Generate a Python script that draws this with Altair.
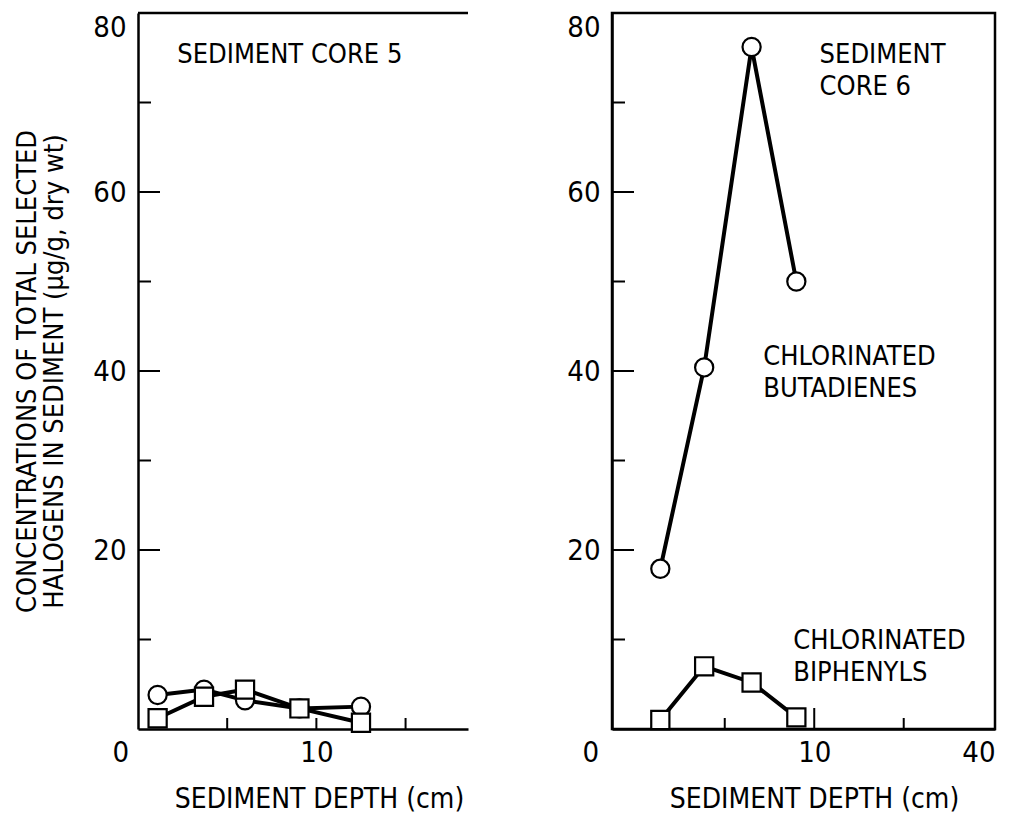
import altair as alt
import pandas as pd

# ---------------- data ----------------
core5_depth = [1.1, 3.7, 6.0, 9.05, 12.5]
core5_butadienes = [3.8, 4.4, 3.2, 2.3, 2.5]
core5_biphenyls = [1.2, 3.6, 4.4, 2.3, 0.7]

core6_depth = [1.4, 3.85, 6.5, 9.0]
core6_butadienes = [17.9, 40.4, 76.2, 50.0]
core6_biphenyls = [1.0, 7.0, 5.2, 1.3]

y_labels = [20, 40, 60, 80]
y_major_ticks = [20, 40, 60]
y_minor_ticks = [10, 30, 50, 70]

core5_x_labels = [0, 10]
core5_x_ticks = [5, 10, 15]
core5_x_domain = [0, 18.5]

core6_x_end = 20.1          # right end of the axis, printed "40" in the original
core6_x_labels = [0, 10, core6_x_end]
core6_x_major_ticks = [10]
core6_x_minor_ticks = [5, 15]
core6_x_domain = [-1.3, core6_x_end]
y_domain = [0, 80]

core5_notes = ["SEDIMENT CORE 5"]
core6_notes = ["SEDIMENT\nCORE 6", "CHLORINATED\nBUTADIENES", "CHLORINATED\nBIPHENYLS"]

# ---------------- styling ----------------
FONT = "Liberation Sans Narrow, DejaVu Sans Condensed, Arial Narrow, sans-serif"
H = 716
W5 = 330
W6 = 383
Y_TITLE = ["CONCENTRATIONS OF TOTAL SELECTED", "HALOGENS IN SEDIMENT (\u00b5g/g, dry wt)"]
X_TITLE = "SEDIMENT DEPTH (cm)"


def y_enc(with_title):
    kw = dict(values=y_labels, ticks=False, grid=False, domainColor="black",
              domainWidth=2.5, labelFont=FONT, labelFontSize=29, labelColor="black",
              labelPadding=12, labelFlush=True, format="d")
    if with_title:
        kw.update(titleFont=FONT, titleFontSize=27, titleFontWeight="normal",
                  titleColor="black", titlePadding=24, titleLineHeight=27)
    return alt.Y("value:Q", scale=alt.Scale(domain=y_domain, nice=False, zero=False),
                 axis=alt.Axis(**kw), title=Y_TITLE if with_title else None)


def x_enc(domain, values, zero_offset, title_x, label_expr=None):
    kw = dict(values=values, ticks=False, grid=False, domainColor="black",
              domainWidth=2.5, labelFont=FONT, labelFontSize=29, labelColor="black",
              labelPadding=9,
              labelOffset={"condition": {"test": "datum.value === 0", "value": zero_offset},
                           "value": 0},
              format="d", titleFont=FONT, titleFontSize=28, titleFontWeight="normal",
              titleColor="black", titleX=title_x, titleY=78, titleBaseline="alphabetic",
              titleAlign="center")
    if label_expr:
        kw["labelExpr"] = label_expr
    return alt.X("depth:Q", scale=alt.Scale(domain=domain, nice=False, zero=False),
                 axis=alt.Axis(**kw), title=X_TITLE)


def panel(depth, buta, biph, xdom, xlabels, xmajor, xminor, zero_off,
          title_x, width, with_title, notes, label_expr=None):
    X = x_enc(xdom, xlabels, zero_off, title_x, label_expr)
    Y = y_enc(with_title)
    d_b = pd.DataFrame({"depth": depth, "value": buta})
    d_p = pd.DataFrame({"depth": depth, "value": biph})
    layers = []
    layers.append(alt.Chart(d_b).mark_line(color="black", strokeWidth=4).encode(x=X, y=Y))
    layers.append(alt.Chart(d_b).mark_point(shape="circle", fill="white", stroke="black",
                                            filled=True, fillOpacity=1, strokeOpacity=1,
                                            strokeWidth=2.2, size=330).encode(x=X, y=Y))
    layers.append(alt.Chart(d_p).mark_line(color="black", strokeWidth=4).encode(x=X, y=Y))
    layers.append(alt.Chart(d_p).mark_point(shape="square", fill="white", stroke="black",
                                            filled=True, fillOpacity=1, strokeOpacity=1,
                                            strokeWidth=2.2, size=330).encode(x=X, y=Y))
    # inward ticks
    layers.append(alt.Chart(pd.DataFrame({"value": y_major_ticks})).mark_rule(
        color="black", strokeWidth=2).encode(y=Y, x=alt.value(0), x2=alt.value(22)))
    layers.append(alt.Chart(pd.DataFrame({"value": y_minor_ticks})).mark_rule(
        color="black", strokeWidth=2).encode(y=Y, x=alt.value(0), x2=alt.value(13)))
    layers.append(alt.Chart(pd.DataFrame({"depth": xmajor})).mark_rule(
        color="black", strokeWidth=2).encode(x=X, y=alt.value(H), y2=alt.value(H - 21)))
    layers.append(alt.Chart(pd.DataFrame({"depth": xminor})).mark_rule(
        color="black", strokeWidth=2).encode(x=X, y=alt.value(H), y2=alt.value(H - 11)))
    layers.append(notes(X, Y))
    return alt.layer(*layers).properties(width=width, height=H)


def notes5(X, Y):
    df = pd.DataFrame({"depth": [2.2], "value": [74.4], "text": core5_notes})
    return alt.Chart(df).mark_text(font=FONT, fontSize=27, align="left",
                                   baseline="alphabetic", color="black",
                                   lineBreak="\n", lineHeight=31).encode(
        x=X, y=Y, text="text:N")


def notes6(X, Y):
    df = pd.DataFrame({"depth": [10.3, 7.15, 8.83], "value": [74.4, 40.7, 8.9],
                       "text": core6_notes})
    return alt.Chart(df).mark_text(font=FONT, fontSize=27, align="left",
                                   baseline="alphabetic", color="black",
                                   lineBreak="\n", lineHeight=32).encode(
        x=X, y=Y, text="text:N")


left = panel(core5_depth, core5_butadienes, core5_biphenyls, core5_x_domain,
             core5_x_labels, [], core5_x_ticks, -26, 181, W5, True, notes5)
top_rule = alt.Chart(pd.DataFrame({"value": [80]})).mark_rule(
    color="black", strokeWidth=2.5).encode(x=alt.value(0), x2=alt.value(W5), y=alt.value(0))
left = alt.layer(left, top_rule)

right = panel(core6_depth, core6_butadienes, core6_biphenyls, core6_x_domain,
              core6_x_labels, core6_x_major_ticks, core6_x_minor_ticks, -45, 202,
              W6, False, notes6,
              label_expr="datum.value > 15 ? '40' : datum.label").properties(
    view=alt.ViewBackground(stroke="black", strokeWidth=2.5))

chart = alt.hconcat(left, right, spacing=95).properties(
    padding={"left": 5, "top": 3, "right": 0, "bottom": 5},
    background="white",
).configure_view(strokeWidth=0)

chart.save("out.html", embed_options={"renderer": "svg", "actions": False})
